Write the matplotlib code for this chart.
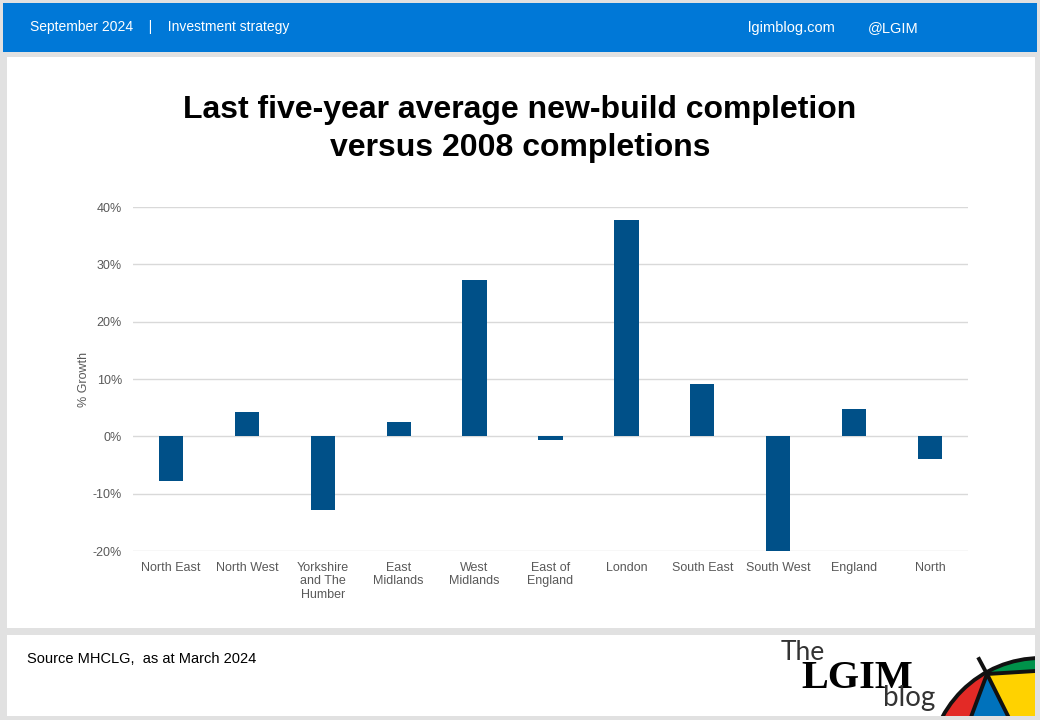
import numpy as np
import matplotlib
matplotlib.use("Agg")
import matplotlib.pyplot as plt
from matplotlib.patches import Rectangle, Polygon, Circle

plt.rcParams['font.family'] = ['Liberation Sans', 'DejaVu Sans']

# data (% growth)
regions = ['North East', 'North West', 'Yorkshire\nand The\nHumber', 'East\nMidlands',
           'West\nMidlands', 'East of\nEngland', 'London', 'South East', 'South West',
           'England', 'North']
growth = [-7.8, 4.2, -12.9, 2.5, 27.2, -0.6, 37.7, 9.2, -20.0, 4.7, -4.0]
y_ticks = [-20, -10, 0, 10, 20, 30, 40]
y_labels = ['-20%', '-10%', '0%', '10%', '20%', '30%', '40%']

W, H = 1040, 720
fig = plt.figure(figsize=(W / 100, H / 100), dpi=100)
fig.patch.set_facecolor('#e1e1e1')

# page furniture, drawn in pixel coords (y down)
bg = fig.add_axes([0, 0, 1, 1])
bg.set_xlim(0, W)
bg.set_ylim(H, 0)
bg.axis('off')
bg.add_patch(Rectangle((3, 3), 1034, 49, color='#0078d7', lw=0))
bg.add_patch(Rectangle((7, 57), 1028, 571, color='white', lw=0))
bg.add_patch(Rectangle((7, 635), 1028, 81, color='white', lw=0))
bg.text(30, 27, 'September 2024    |    Investment strategy', color='white',
        fontsize=10, va='center', ha='left')
bg.text(748, 28, 'lgimblog.com', color='white', fontsize=10.5, va='center')
bg.text(868, 28, '@LGIM', color='white', fontsize=10.5, va='center')
bg.text(520, 129, 'Last five-year average new-build completion\nversus 2008 completions',
        fontsize=23, fontweight='bold', ha='center', va='center', linespacing=1.38)
bg.text(27, 659, 'Source MHCLG,  as at March 2024', fontsize=10.5, va='center')

# the chart itself
ax = fig.add_axes([133 / W, (H - 551) / H, 835 / W, 344 / H])
x = np.arange(len(regions))
ax.bar(x, growth, width=0.32, color='#005088', zorder=3)
ax.set_xlim(-0.5, len(regions) - 0.5)
ax.set_ylim(-20, 40)
ax.set_yticks(y_ticks)
ax.set_yticklabels(y_labels)
ax.set_xticks(x)
ax.set_xticklabels(regions, linespacing=1.15)
ax.grid(axis='y', color='#d9d9d9', lw=1, zorder=0)
for s in ax.spines.values():
    s.set_visible(False)
ax.tick_params(length=0, labelsize=9, labelcolor='#595959', pad=8)
ax.tick_params(axis='y', pad=8)
ax.set_ylabel('% Growth', fontsize=9, color='#595959', labelpad=2)
ax.set_facecolor('none')

# logo in the footer
lg = fig.add_axes([7 / W, (H - 716) / H, 1028 / W, 81 / H])
lg.set_xlim(7, 1035)
lg.set_ylim(716, 635)
lg.axis('off')
lg.text(781, 652, 'The', fontsize=19, family=['Lato', 'DejaVu Sans'], fontweight='normal',
        va='center', ha='left', color='#333333')
lg.text(801, 679, 'LGIM', fontsize=29, family=['Liberation Serif', 'DejaVu Serif'],
        fontweight='bold', va='center', ha='left', color='black')
lg.text(883, 698, 'blog', fontsize=20, family=['Lato', 'DejaVu Sans'], fontweight='normal',
        va='center', ha='left', color='#333333')

apex = (987, 674)
dome = Circle((1041, 770), 112, fc='none', ec='none')
lg.add_patch(dome)
s1 = (955, 760)
s2 = (1030, 760)
s3 = (1100, 667)
pieces = [
    ('#e32a26', [apex, s1, (880, 760), (880, 600)]),
    ('#0072bc', [apex, s1, s2]),
    ('#ffd200', [apex, s2, (1100, 760), s3]),
    ('#00924a', [apex, s3, (1100, 600), (940, 600)]),
]
for col, pts in pieces:
    p = Polygon(pts, closed=True, fc=col, ec='none')
    lg.add_patch(p)
    p.set_clip_path(dome)
for end in [s1, s2, s3]:
    ln, = lg.plot([apex[0], end[0]], [apex[1], end[1]], color='#111111', lw=2.8,
                  solid_capstyle='butt')
    ln.set_clip_path(dome)
lg.add_patch(Circle((1041, 770), 112, fc='none', ec='#111111', lw=2.8))
lg.plot([apex[0], 979], [apex[1], 659], color='#111111', lw=2.8)

fig.savefig('out.png', dpi=100, facecolor=fig.get_facecolor())
